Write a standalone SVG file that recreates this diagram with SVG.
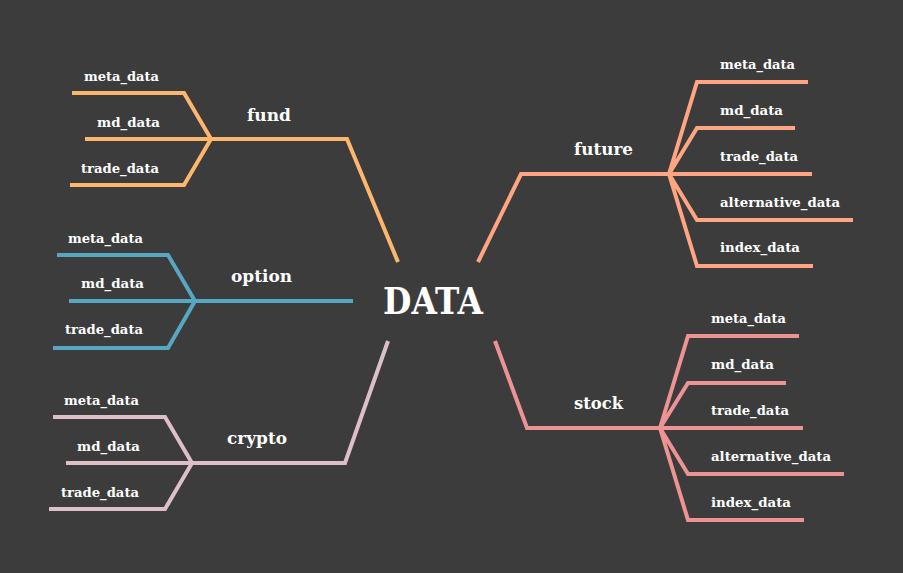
<svg xmlns="http://www.w3.org/2000/svg" width="903" height="573" viewBox="0 0 903 573">
<style>
.bg{fill:#3c3c3c}
.ln{fill:none;stroke-width:4;stroke-linejoin:miter;stroke-linecap:butt}
.t{font-family:"DejaVu Serif","Liberation Serif",serif;font-weight:bold;fill:#ffffff}
.leaf{font-size:12px}
.br{font-size:17px}
.root{font-size:38px}
.fund{stroke:#fdb76d}
.option{stroke:#56a8c2}
.crypto{stroke:#ddbfc8}
.future{stroke:#ffa582}
.stock{stroke:#ee9393}
</style>
<rect class="bg" x="0" y="0" width="903" height="573"/>
<g id="connectors">
<path class="ln fund" d="M398,262 L347,139 L211,139 M72,93 L184,93 L211,139 L184,185 L70,185 M85,139 L211,139"/>
<path class="ln option" d="M353,301 L195,301 M57,255 L168,255 L195,301 L168,348 L53,348 M69,301 L195,301"/>
<path class="ln crypto" d="M388,341 L345,463 L192,463 M53,417 L165,417 L192,463 L165,509 L49,509 M66,463 L192,463"/>
<path class="ln future" d="M478,262 L521,174 L669,174 M808,82 L697,82 L669,174 M795,128 L697,128 L669,174 L812,174 M669,174 L697,220 L853,220 M669,174 L697,266 L813,266"/>
<path class="ln stock" d="M495,341 L527,428 L660,428 M799,336 L688,336 L660,428 M786,383 L688,383 L660,428 L803,428 M660,428 L688,474 L844,474 M660,428 L688,520 L804,520"/>
</g>
<g id="root"><text class="t root" x="383" y="314" textLength="100" lengthAdjust="spacingAndGlyphs">DATA</text></g>
<g id="fund">
<text class="t br" x="247" y="121" textLength="44" lengthAdjust="spacingAndGlyphs">fund</text>
<text class="t leaf" x="84" y="81" textLength="75" lengthAdjust="spacingAndGlyphs">meta_data</text>
<text class="t leaf" x="97" y="127" textLength="63" lengthAdjust="spacingAndGlyphs">md_data</text>
<text class="t leaf" x="81" y="173" textLength="78" lengthAdjust="spacingAndGlyphs">trade_data</text>
</g>
<g id="option">
<text class="t br" x="231" y="282" textLength="61" lengthAdjust="spacingAndGlyphs">option</text>
<text class="t leaf" x="68" y="243" textLength="75" lengthAdjust="spacingAndGlyphs">meta_data</text>
<text class="t leaf" x="81" y="288" textLength="63" lengthAdjust="spacingAndGlyphs">md_data</text>
<text class="t leaf" x="65" y="334" textLength="78" lengthAdjust="spacingAndGlyphs">trade_data</text>
</g>
<g id="crypto">
<text class="t br" x="227" y="444" textLength="60" lengthAdjust="spacingAndGlyphs">crypto</text>
<text class="t leaf" x="64" y="405" textLength="75" lengthAdjust="spacingAndGlyphs">meta_data</text>
<text class="t leaf" x="77" y="451" textLength="63" lengthAdjust="spacingAndGlyphs">md_data</text>
<text class="t leaf" x="61" y="497" textLength="78" lengthAdjust="spacingAndGlyphs">trade_data</text>
</g>
<g id="future">
<text class="t br" x="574" y="155" textLength="59" lengthAdjust="spacingAndGlyphs">future</text>
<text class="t leaf" x="720" y="69" textLength="75" lengthAdjust="spacingAndGlyphs">meta_data</text>
<text class="t leaf" x="720" y="115" textLength="63" lengthAdjust="spacingAndGlyphs">md_data</text>
<text class="t leaf" x="720" y="161" textLength="78" lengthAdjust="spacingAndGlyphs">trade_data</text>
<text class="t leaf" x="720" y="207" textLength="120" lengthAdjust="spacingAndGlyphs">alternative_data</text>
<text class="t leaf" x="720" y="252" textLength="80" lengthAdjust="spacingAndGlyphs">index_data</text>
</g>
<g id="stock">
<text class="t br" x="574" y="409" textLength="49" lengthAdjust="spacingAndGlyphs">stock</text>
<text class="t leaf" x="711" y="323" textLength="75" lengthAdjust="spacingAndGlyphs">meta_data</text>
<text class="t leaf" x="711" y="369" textLength="63" lengthAdjust="spacingAndGlyphs">md_data</text>
<text class="t leaf" x="711" y="415" textLength="78" lengthAdjust="spacingAndGlyphs">trade_data</text>
<text class="t leaf" x="711" y="461" textLength="120" lengthAdjust="spacingAndGlyphs">alternative_data</text>
<text class="t leaf" x="711" y="507" textLength="80" lengthAdjust="spacingAndGlyphs">index_data</text>
</g>
</svg>
